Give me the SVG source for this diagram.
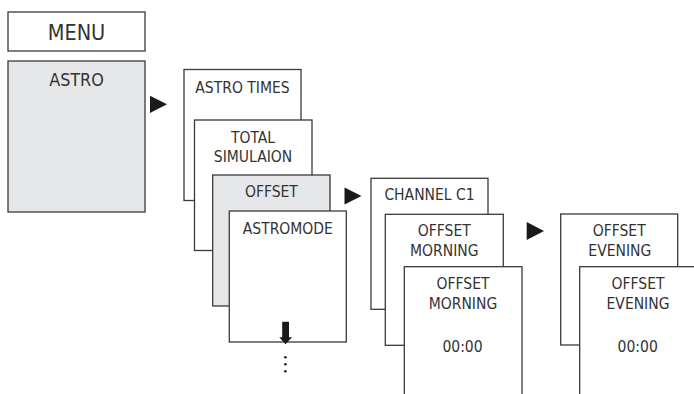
<svg xmlns="http://www.w3.org/2000/svg" width="694" height="394" viewBox="0 0 694 394">
<style>
.b{fill:#fff;stroke:#3a3a3a;stroke-width:1.3}
.g{fill:#e6e7e9;stroke:#3a3a3a;stroke-width:1.3}
text{font-family:"DejaVu Sans Condensed","DejaVu Sans",sans-serif;fill:#333;text-anchor:middle;font-size:15.5px}
.tri{fill:#1a1a1a}
</style>
<rect width="694" height="394" fill="#fff"/>
<g id="menu"><rect class="b" x="8" y="12" width="137" height="39"/><text x="76.5" y="39.5" style="font-size:21.5px">MENU</text></g>
<g id="astro"><rect class="g" x="8" y="61" width="137" height="151"/><text x="76.5" y="85.5" style="font-size:17.8px">ASTRO</text></g>
<g id="astro-times"><rect class="b" x="184" y="69.5" width="117" height="131"/><text x="242.5" y="92.5">ASTRO TIMES</text></g>
<g id="total-sim"><rect class="b" x="194.5" y="120" width="117.5" height="130.5"/><text x="253" y="142.5">TOTAL</text><text x="253" y="162">SIMULAION</text></g>
<g id="offset"><rect class="g" x="212.7" y="175" width="117.3" height="131"/><text x="271.4" y="197">OFFSET</text></g>
<g id="astromode"><rect class="b" x="229.3" y="211" width="117" height="131"/><text x="287.8" y="233.5">ASTROMODE</text></g>
<g id="channel"><rect class="b" x="371" y="178.3" width="117" height="131"/><text x="429.5" y="200">CHANNEL C1</text></g>
<g id="om1"><rect class="b" x="385.3" y="214.3" width="118" height="131"/><text x="444.3" y="236">OFFSET</text><text x="444.3" y="255.5">MORNING</text></g>
<g id="om2"><rect class="b" x="404.3" y="266.7" width="117.7" height="140"/><text x="463" y="289">OFFSET</text><text x="463" y="308.7">MORNING</text><text x="462.5" y="351.7">00:00</text></g>
<g id="oe1"><rect class="b" x="560.7" y="214" width="117" height="131"/><text x="619.2" y="236">OFFSET</text><text x="619.8" y="256">EVENING</text></g>
<g id="oe2"><rect class="b" x="579.7" y="266.7" width="117" height="140"/><text x="638" y="288.5">OFFSET</text><text x="638" y="309">EVENING</text><text x="637.7" y="351.7">00:00</text></g>
<g id="connectors">
<polygon class="tri" points="150,95.7 167,104.3 150,113"/>
<polygon class="tri" points="344.5,187.5 361.5,196 344.5,204.5"/>
<polygon class="tri" points="526.7,222 544,231 526.7,240"/>
<polygon class="tri" points="282.2,321.7 289,321.7 289,337.3 292,337.3 285.6,344.3 279.2,337.3 282.2,337.3"/>
<circle cx="285.4" cy="357.3" r="1.3" fill="#222"/>
<circle cx="285.4" cy="364.2" r="1.3" fill="#222"/>
<circle cx="285.4" cy="371.2" r="1.3" fill="#222"/>
</g>
</svg>
